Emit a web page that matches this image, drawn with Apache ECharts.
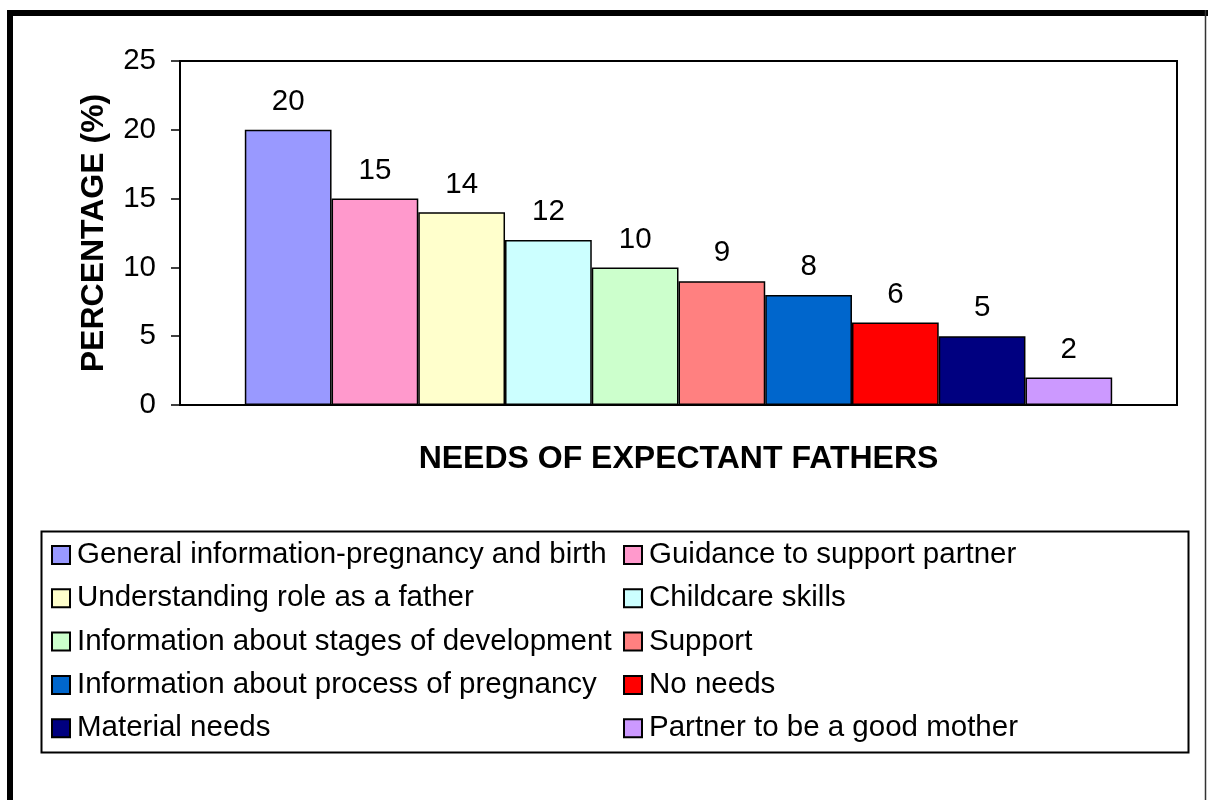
<!DOCTYPE html>
<html>
<head>
<meta charset="utf-8">
<script src="https://cdn.jsdelivr.net/npm/echarts@6/dist/echarts.min.js"></script>
<style>html,body{margin:0;padding:0;background:#fff;}#c{width:1208px;height:800px;}</style>
</head>
<body>
<div id="c"></div>
<script>
const categories = ['Needs'];
const seriesNames = [
  'General information-pregnancy and birth',
  'Guidance to support partner',
  'Understanding role as a father',
  'Childcare skills',
  'Information about stages of development',
  'Support',
  'Information about process of pregnancy',
  'No needs',
  'Material needs',
  'Partner to be a good mother'
];
const values = [20, 15, 14, 12, 10, 9, 8, 6, 5, 2];
const colors = ['#9999FF', '#FF99CC', '#FFFFCC', '#CCFFFF', '#CCFFCC', '#FF8080', '#0066CC', '#FF0000', '#000080', '#CC99FF'];
const yTicks = [0, 5, 10, 15, 20, 25];

const FONT = '"Liberation Sans", Arial, sans-serif';
const chart = echarts.init(document.getElementById('c'), null, {renderer: 'canvas'});

const series = seriesNames.map((n, i) => ({
  name: n,
  type: 'bar',
  data: [values[i]],
  barGap: '0%',
  barCategoryGap: '13%',
  itemStyle: {color: colors[i], borderColor: '#000', borderWidth: 1.5},
  label: {show: true, position: 'top', distance: 13, color: '#000', fontSize: 29.5, fontFamily: FONT},
  emphasis: {disabled: true},
  animation: false
}));

const legendBase = {
  orient: 'vertical',
  top: 540,
  padding: 0,
  itemWidth: 18,
  itemHeight: 18,
  itemGap: 13.3,
  icon: 'rect',
  selectedMode: false,
  textStyle: {fontSize: 29.5, color: '#000', fontFamily: FONT, padding: [0, 0, 0, 2]}
};

chart.setOption({
  backgroundColor: '#fff',
  animation: false,
  grid: {left: 180, right: 31, top: 61, bottom: 395, show: true, borderColor: '#000', borderWidth: 2, backgroundColor: 'transparent'},
  xAxis: {
    type: 'category',
    data: categories,
    name: 'NEEDS OF EXPECTANT FATHERS',
    nameLocation: 'middle',
    nameGap: 38,
    nameTextStyle: {fontSize: 32, fontWeight: 'bold', color: '#000', fontFamily: FONT},
    axisLine: {show: true, lineStyle: {color: '#000', width: 2}},
    axisTick: {show: false},
    axisLabel: {show: false},
    splitLine: {show: false}
  },
  yAxis: {
    type: 'value',
    min: yTicks[0],
    max: yTicks[yTicks.length - 1],
    interval: 5,
    name: 'PERCENTAGE (%)',
    nameLocation: 'middle',
    nameGap: 70,
    nameTextStyle: {fontSize: 32, fontWeight: 'bold', color: '#000', fontFamily: FONT},
    axisLine: {show: true, lineStyle: {color: '#000', width: 2}},
    axisTick: {show: true, inside: false, length: 9, lineStyle: {color: '#000', width: 1.5}},
    axisLabel: {fontSize: 29.5, color: '#000', fontFamily: FONT, margin: 24},
    splitLine: {show: false}
  },
  legend: [
    Object.assign({}, legendBase, {left: 51, data: seriesNames.filter((_, i) => i % 2 === 0)}),
    Object.assign({}, legendBase, {left: 623, data: seriesNames.filter((_, i) => i % 2 === 1)})
  ],
  graphic: [
    {type: 'rect', shape: {x: 41.5, y: 531.5, width: 1147, height: 221}, style: {fill: 'none', stroke: '#000', lineWidth: 2}, silent: true, z: 0},
    {type: 'line', shape: {x1: 7, y1: 13, x2: 1208, y2: 13}, style: {stroke: '#000', lineWidth: 6}, silent: true},
    {type: 'line', shape: {x1: 10, y1: 10, x2: 10, y2: 800}, style: {stroke: '#000', lineWidth: 6}, silent: true},
    {type: 'line', shape: {x1: 1205.5, y1: 10, x2: 1205.5, y2: 800}, style: {stroke: '#333', lineWidth: 1.5}, silent: true}
  ],
  series: series
});
</script>
</body>
</html>
